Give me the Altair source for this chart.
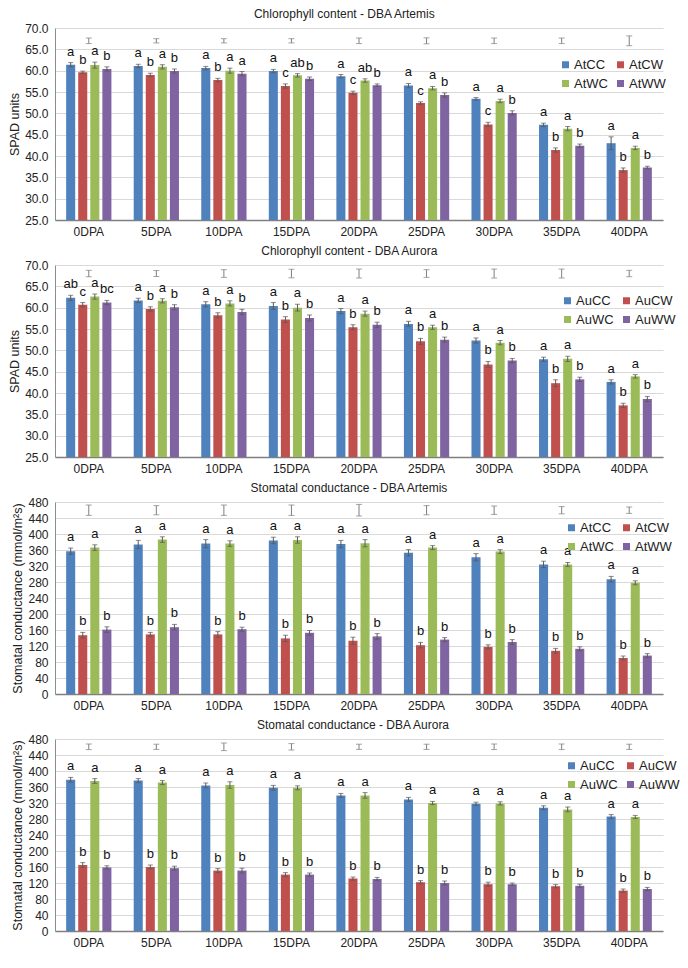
import altair as alt
import pandas as pd

FONT = "Liberation Sans"
DPA = ["0DPA", "5DPA", "10DPA", "15DPA", "20DPA", "25DPA", "30DPA", "35DPA", "40DPA"]
COLORS = ["#4F81BD", "#C0504D", "#9BBB59", "#8064A2"]

# ---------- Panel 1: Chlorophyll content - DBA Artemis ----------
p1_trt = ["AtCC", "AtCW", "AtWC", "AtWW"]
p1_CC = [61.4, 61.1, 60.6, 59.9, 58.7, 56.5, 53.4, 47.3, 43.0]
p1_CW = [59.6, 59.0, 57.8, 56.4, 54.8, 52.4, 47.4, 41.4, 36.7]
p1_WC = [61.3, 60.9, 60.0, 58.9, 57.7, 55.9, 52.9, 46.4, 41.9]
p1_WW = [60.4, 59.9, 59.3, 58.1, 56.6, 54.3, 50.1, 42.4, 37.3]
p1_CC_err = [0.5, 0.4, 0.4, 0.4, 0.4, 0.5, 0.3, 0.4, 1.5]
p1_CW_err = [0.3, 0.4, 0.4, 0.5, 0.4, 0.3, 0.5, 0.5, 0.5]
p1_WC_err = [0.7, 0.5, 0.6, 0.4, 0.4, 0.4, 0.4, 0.5, 0.4]
p1_WW_err = [0.5, 0.5, 0.5, 0.4, 0.3, 0.5, 0.5, 0.4, 0.3]
p1_CC_let = ["a"] * 9
p1_CW_let = ["b", "b", "b", "c", "c", "c", "c", "b", "b"]
p1_WC_let = ["a", "a", "a", "ab", "ab", "a", "a", "a", "a"]
p1_WW_let = ["b", "b", "a", "b", "b", "b", "b", "b", "b"]
p1_lsd_center = 67.0
p1_lsd_half = [0.65, 0.5, 0.5, 0.5, 0.65, 0.7, 0.65, 0.65, 1.15]

# ---------- Panel 2: Chlorophyll content - DBA Aurora ----------
p2_trt = ["AuCC", "AuCW", "AuWC", "AuWW"]
p2_CC = [62.3, 61.7, 60.8, 60.4, 59.2, 56.2, 52.3, 47.9, 42.6]
p2_CW = [60.7, 59.7, 58.2, 57.2, 55.4, 52.1, 46.7, 42.3, 37.1]
p2_WC = [62.6, 61.6, 61.0, 60.0, 58.6, 55.4, 51.8, 48.0, 43.9]
p2_WW = [61.2, 60.1, 59.0, 57.6, 56.0, 52.5, 47.6, 43.2, 38.6]
p2_CC_err = [0.6, 0.5, 0.6, 0.8, 0.6, 0.6, 0.6, 0.5, 0.5]
p2_CW_err = [0.5, 0.5, 0.6, 0.7, 0.6, 0.7, 0.7, 0.8, 0.5]
p2_WC_err = [0.6, 0.5, 0.6, 0.8, 0.6, 0.5, 0.5, 0.6, 0.4]
p2_WW_err = [0.5, 0.6, 0.6, 0.7, 0.6, 0.6, 0.5, 0.5, 0.6]
p2_CC_let = ["ab", "a", "a", "a", "a", "a", "a", "a", "a"]
p2_CW_let = ["c", "b", "b", "b", "b", "b", "b", "b", "b"]
p2_WC_let = ["a", "a", "a", "a", "a", "a", "a", "a", "a"]
p2_WW_let = ["bc", "b", "b", "b", "b", "b", "b", "b", "b"]
p2_lsd_center = 68.0
p2_lsd_half = [0.75, 0.7, 0.9, 1.0, 1.05, 0.9, 1.05, 1.05, 0.75]

# ---------- Panel 3: Stomatal conductance - DBA Artemis ----------
p3_trt = ["AtCC", "AtCW", "AtWC", "AtWW"]
p3_CC = [357, 374, 376, 384, 375, 353, 342, 324, 287]
p3_CW = [147, 149, 149, 139, 133, 122, 118, 108, 90]
p3_WC = [366, 386, 376, 385, 377, 366, 356, 324, 278]
p3_WW = [161, 167, 162, 153, 144, 136, 130, 113, 96]
p3_CC_err = [8, 10, 10, 8, 9, 8, 9, 8, 7]
p3_CW_err = [7, 5, 7, 8, 9, 7, 5, 6, 5]
p3_WC_err = [7, 7, 7, 8, 9, 5, 5, 5, 5]
p3_WW_err = [7, 7, 5, 6, 7, 5, 6, 5, 5]
p3_CC_let = ["a"] * 9
p3_CW_let = ["b"] * 9
p3_WC_let = ["a"] * 9
p3_WW_let = ["b"] * 9
p3_lsd_center = 459.5
p3_lsd_half = [13, 11.5, 13, 13, 14.5, 11.5, 10.5, 9, 8]

# ---------- Panel 4: Stomatal conductance - DBA Aurora ----------
p4_trt = ["AuCC", "AuCW", "AuWC", "AuWW"]
p4_CC = [378, 376, 364, 358, 339, 329, 318, 308, 286]
p4_CW = [165, 160, 151, 141, 131, 122, 117, 112, 101]
p4_WC = [375, 371, 365, 358, 339, 320, 319, 304, 285]
p4_WW = [159, 157, 151, 141, 130, 120, 117, 113, 105]
p4_CC_err = [6, 5, 6, 6, 5, 5, 4, 5, 5]
p4_CW_err = [6, 5, 5, 5, 4, 4, 5, 4, 4]
p4_WC_err = [6, 5, 8, 5, 7, 4, 4, 6, 4]
p4_WW_err = [4, 5, 6, 4, 4, 5, 3, 4, 4]
p4_CC_let = ["a"] * 9
p4_CW_let = ["b"] * 9
p4_WC_let = ["a"] * 9
p4_WW_let = ["b"] * 9
p4_lsd_center = 460.5
p4_lsd_half = [7, 6.5, 9.5, 8, 6.5, 6.5, 7, 7, 6.5]

W = 608
H = 192


def build_df(trts, series, errs, lets, base_val):
    rows = []
    for i, d in enumerate(DPA):
        for k in range(4):
            v = series[k][i]
            e = errs[k][i]
            rows.append({"dpa": d, "trt": trts[k], "pos": k, "value": v,
                         "base": base_val,
                         "lo": v - e, "hi": v + e, "letter": lets[k][i]})
    return pd.DataFrame(rows)


def build_lsd(center, half):
    return pd.DataFrame({"dpa": DPA, "lo": [center - h for h in half],
                         "hi": [center + h for h in half]})


def panel(title, ytitle, trts, series, errs, lets, lsd_center, lsd_half,
          ydomain, yvalues, yfmt, legx, legy):
    df = build_df(trts, series, errs, lets, ydomain[0])
    lsd = build_lsd(lsd_center, lsd_half)
    xenc = alt.X("dpa:N", sort=DPA,
                 scale=alt.Scale(paddingInner=0.33, paddingOuter=0.165),
                 axis=alt.Axis(title=None, labelAngle=0, ticks=False, grid=False,
                               domainColor="#7f7f7f", domainWidth=1.5,
                               labelPadding=6, labelFontSize=12, labelFont=FONT,
                               labelColor="#222"))
    xoff = alt.XOffset("pos:O", scale=alt.Scale(paddingInner=0.25, paddingOuter=0))
    ysc = alt.Scale(domain=ydomain, nice=False, zero=False)
    yaxis = alt.Axis(title=ytitle, values=yvalues, format=yfmt, ticks=False,
                     grid=True, gridColor="#d9d9d9", domainColor="#8c8c8c",
                     labelPadding=7, labelFontSize=12, labelFont=FONT,
                     labelColor="#222", titleFont=FONT, titleFontSize=12.5,
                     titleFontWeight="normal", titleColor="#222", titlePadding=3)

    def Y(field):
        return alt.Y(field, scale=ysc, axis=yaxis)

    base = alt.Chart(df)
    bars = base.mark_bar().encode(
        x=xenc, xOffset=xoff, y=Y("value:Q"), y2="base:Q",
        color=alt.Color("trt:N", scale=alt.Scale(domain=trts, range=COLORS),
                        legend=alt.Legend(orient="none", legendX=legx, legendY=legy,
                                          columns=2, direction="horizontal",
                                          title=None, symbolType="square",
                                          symbolSize=49, symbolStrokeWidth=0,
                                          labelFontSize=13, labelFont=FONT,
                                          labelColor="#222", columnPadding=6,
                                          rowPadding=5, labelOffset=2, padding=0)))
    err_rule = base.mark_rule(color="#595959", strokeWidth=1).encode(
        x=xenc, xOffset=xoff, y=Y("lo:Q"), y2="hi:Q")
    cap_lo = base.mark_tick(color="#595959", size=5, thickness=1, orient="horizontal").encode(
        x=xenc, xOffset=xoff, y=Y("lo:Q"))
    cap_hi = base.mark_tick(color="#595959", size=5, thickness=1, orient="horizontal").encode(
        x=xenc, xOffset=xoff, y=Y("hi:Q"))
    letters = base.mark_text(baseline="bottom", dy=-4, fontSize=13, font=FONT,
                             color="#111").encode(
        x=xenc, xOffset=xoff, y=Y("hi:Q"), text="letter:N")
    lb = alt.Chart(lsd)
    lsd_rule = lb.mark_rule(color="#7f7f7f", strokeWidth=1).encode(
        x=xenc, y=Y("lo:Q"), y2="hi:Q")
    lsd_lo = lb.mark_tick(color="#7f7f7f", size=6, thickness=1, orient="horizontal").encode(
        x=xenc, y=Y("lo:Q"))
    lsd_hi = lb.mark_tick(color="#7f7f7f", size=6, thickness=1, orient="horizontal").encode(
        x=xenc, y=Y("hi:Q"))
    return alt.layer(bars, err_rule, cap_lo, cap_hi, letters, lsd_rule, lsd_lo, lsd_hi).properties(
        width=W, height=H,
        title=alt.TitleParams(title, font=FONT, fontSize=12, fontWeight="normal",
                              color="#222", anchor="middle", frame="bounds",
                              offset=1, dx=7))


chl_vals = [25 + 5 * i for i in range(10)]
sc_vals = [40 * i for i in range(13)]

c1 = panel("Chlorophyll content - DBA Artemis", "SPAD units", p1_trt,
           [p1_CC, p1_CW, p1_WC, p1_WW], [p1_CC_err, p1_CW_err, p1_WC_err, p1_WW_err],
           [p1_CC_let, p1_CW_let, p1_WC_let, p1_WW_let], p1_lsd_center, p1_lsd_half,
           [25, 70], chl_vals, ".1f", W - 104, 30)
c2 = panel("Chlorophyll content - DBA Aurora", "SPAD units", p2_trt,
           [p2_CC, p2_CW, p2_WC, p2_WW], [p2_CC_err, p2_CW_err, p2_WC_err, p2_WW_err],
           [p2_CC_let, p2_CW_let, p2_WC_let, p2_WW_let], p2_lsd_center, p2_lsd_half,
           [25, 70], chl_vals, ".1f", W - 102, 29)
c3 = panel("Stomatal conductance - DBA Artemis", "Stomatal conductance (mmol/m²s)", p3_trt,
           [p3_CC, p3_CW, p3_WC, p3_WW], [p3_CC_err, p3_CW_err, p3_WC_err, p3_WW_err],
           [p3_CC_let, p3_CW_let, p3_WC_let, p3_WW_let], p3_lsd_center, p3_lsd_half,
           [0, 480], sc_vals, "d", W - 98, 19)
c4 = panel("Stomatal conductance - DBA Aurora", "Stomatal conductance (mmol/m²s)", p4_trt,
           [p4_CC, p4_CW, p4_WC, p4_WW], [p4_CC_err, p4_CW_err, p4_WC_err, p4_WW_err],
           [p4_CC_let, p4_CW_let, p4_WC_let, p4_WW_let], p4_lsd_center, p4_lsd_half,
           [0, 480], sc_vals, "d", W - 98, 20)

chart = alt.vconcat(c1, c2, c3, c4, spacing=8).resolve_scale(
    color="independent", y="independent", x="independent", xOffset="independent"
).resolve_legend(color="independent").properties(
    padding={"left": 0, "top": 0, "right": 0, "bottom": 0}
).configure_view(stroke=None)

chart.save("out.html", embed_options={"renderer": "svg", "actions": False})
